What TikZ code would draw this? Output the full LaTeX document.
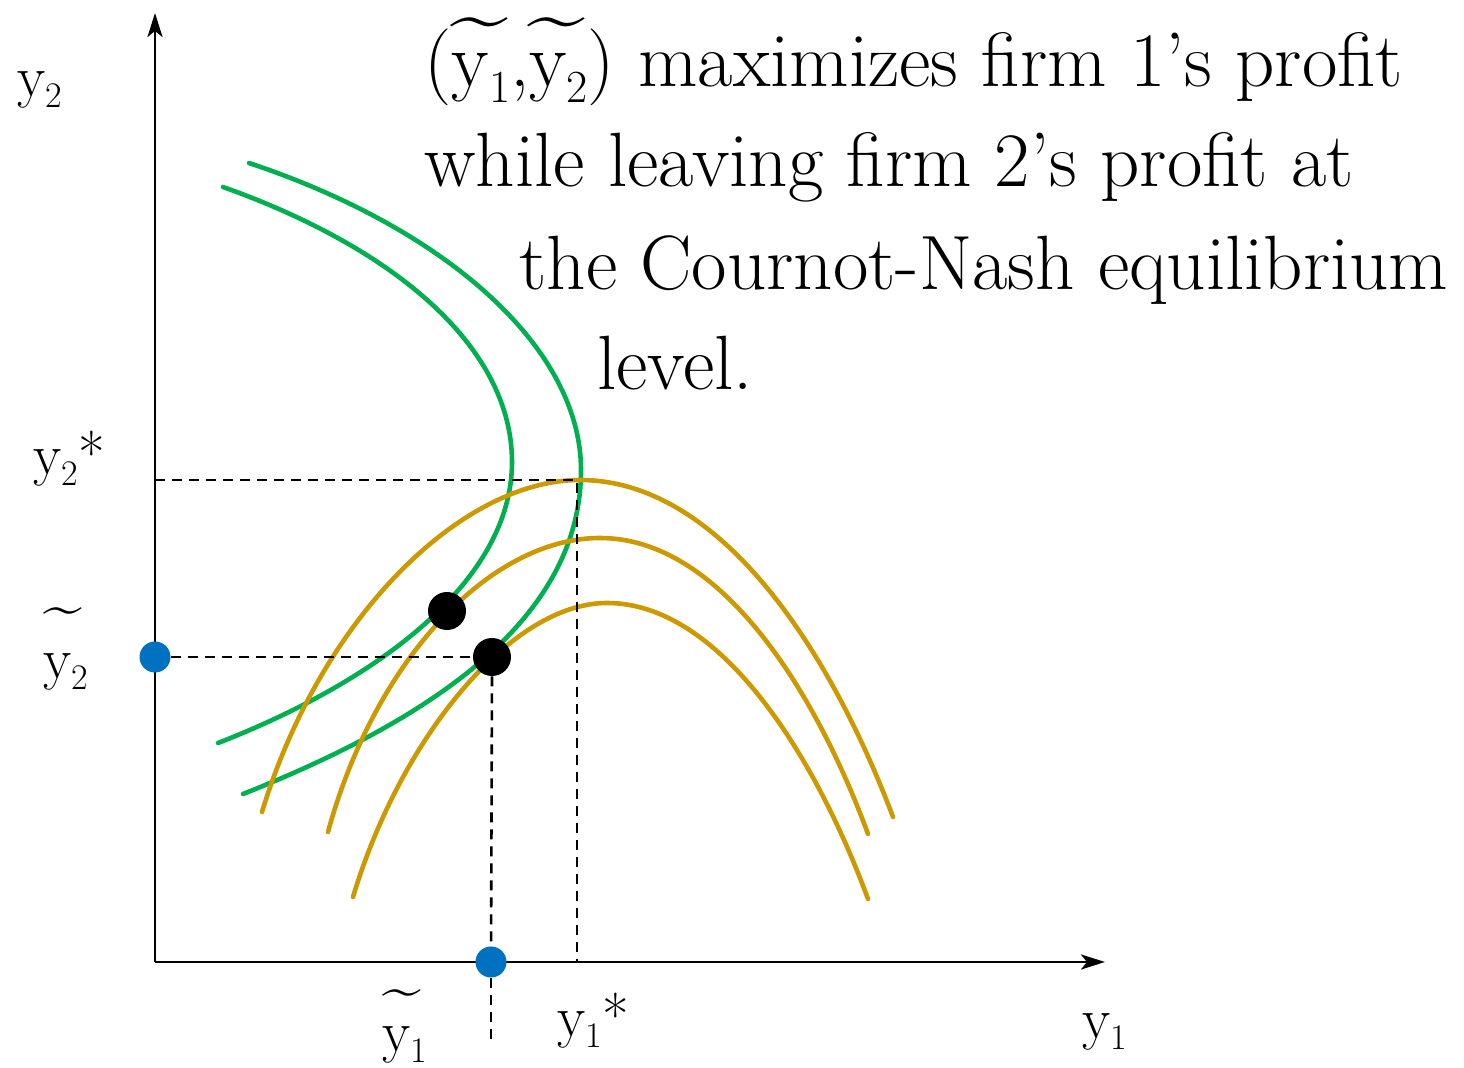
\documentclass[tikz,border=0pt]{standalone}
\usepackage{fontspec}
\usepackage{graphicx}
\usetikzlibrary{arrows.meta}
\definecolor{grn}{HTML}{00B050}
\definecolor{org}{HTML}{CC9900}
\definecolor{blu}{HTML}{0070C0}
\newcommand\mtil{\makebox[0pt][l]{\raisebox{0.58em}{\hspace{-0.02em}\scalebox{1.35}[1.05]{\textasciitilde}}}}
\newcommand\msub[1]{\raisebox{-0.2em}{\fontsize{23}{23}\selectfont #1}}
\newcommand\lsub[1]{\raisebox{-5.5pt}{\fontsize{18}{18}\selectfont #1}}
\newcommand\ltil[1]{\makebox[0pt][l]{\raisebox{#1}{\scalebox{1.2}[1]{\textasciitilde}}}}
\begin{document}
\begin{tikzpicture}[x=0.5pt,y=-0.5pt,
  axis/.style={line width=1.35pt,-{Stealth[length=12pt,width=7.5pt,inset=3pt]}},
  guide/.style={line width=1.3pt,dash pattern=on 5pt off 3.5pt},
  gcurve/.style={draw=grn,line width=2.3pt,line cap=round},
  ocurve/.style={draw=org,line width=2.3pt,line cap=round},
  bigdot/.style={circle,fill=black,minimum size=19pt,inner sep=0pt},
  bluedot/.style={circle,fill=blu,minimum size=15.5pt,inner sep=0pt},
  maintxt/.style={anchor=base west,inner sep=0pt,font=\fontsize{38.5}{46}\selectfont},
  lbl/.style={anchor=base west,inner sep=0pt,font=\fontsize{29}{29}\selectfont}]
\useasboundingbox (0,0) rectangle (1464,1068);
% axes
\coordinate (O) at (155,962);
\coordinate (ytip) at (155,13);
\coordinate (xtip) at (1105,962);
\draw[axis] (O) -- (ytip);
\draw[axis] (O) -- (xtip);
% green curves
\draw[gcurve] (223,187) .. controls (400,250) and (512,350) .. (512,462)
                        .. controls (512,580) and (380,680) .. (218,743);
\draw[gcurve] (249,163) .. controls (450,230) and (581,350) .. (581,470)
                        .. controls (581,620) and (430,720) .. (243,794);
% orange curves
\draw[ocurve] (262,812) .. controls (320,620) and (460,480) .. (580,480)
                        .. controls (720,480) and (830,650) .. (893,817);
\draw[ocurve] (328,832) .. controls (375,660) and (490,538) .. (600,538)
                        .. controls (720,538) and (815,690) .. (868,834);
\draw[ocurve] (353,897) .. controls (400,740) and (510,603) .. (607,603)
                        .. controls (720,603) and (815,755) .. (868,899);
% dots
\node[bigdot] (d1) at (447,611) {};
\node[bigdot] (d2) at (492,657) {};
\node[bluedot] (b2) at (155,657) {};
\node[bluedot] (b1) at (491,962) {};
% guides
\coordinate (s2) at (155,480);
\coordinate (ne) at (577,480);
\coordinate (s1) at (577,962);
\coordinate (bend) at (491,1045);
\draw[guide] (s2) -- (ne) -- (s1);
\draw[guide] (b2) -- (d2);
\draw[guide] (d2.south) -- (b1);
\draw[guide] (b1) -- (bend);
% axis labels
\node[lbl] (ly2) at (17,97) {y\lsub{2}};
\node[lbl] (ly2s) at (33,475) {y\lsub{2}*};
\node[lbl] (ly2t) at (43,679) {\ltil{26.5pt}y\lsub{2}};
\node[lbl] (ly1t) at (382,1052) {\ltil{22pt}y\lsub{1}};
\node[lbl] (ly1s) at (557,1037) {y\lsub{1}*};
\node[lbl] (ly1) at (1082,1039) {y\lsub{1}};
% text
\node[maintxt] (t1) at (424,87) {(\mtil y\msub{1},\mtil y\msub{2}) maximizes firm 1’s profit};
\node[maintxt] (t2) at (424,187) {while leaving firm 2’s profit at};
\node[maintxt] (t3) at (519,290) {the Cournot-Nash equilibrium};
\node[maintxt] (t4) at (597,390) {level.};
\end{tikzpicture}
\end{document}
